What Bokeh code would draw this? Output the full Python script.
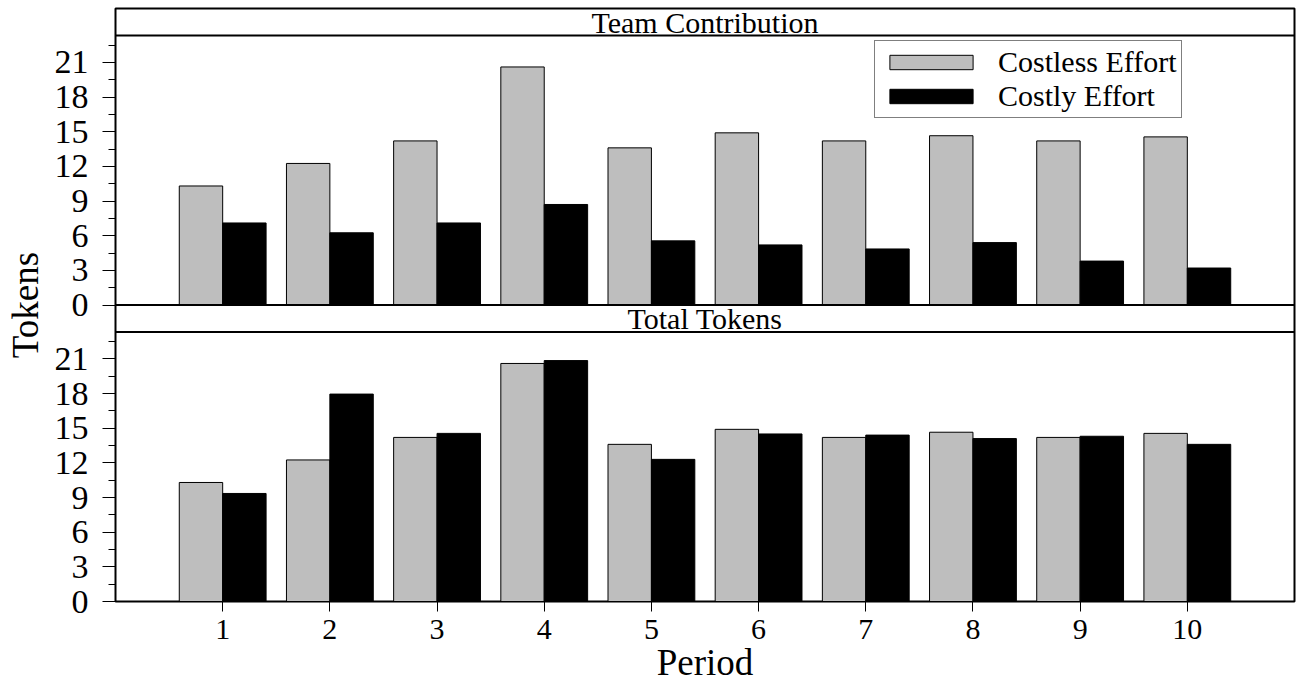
from bokeh.plotting import figure
from bokeh.models import (Range1d, FixedTicker, Span, Label, Legend, LegendItem,
                          ColumnDataSource, CustomJSTickFormatter)
from bokeh.embed import file_html
from bokeh.resources import INLINE
from bokeh.transform import dodge

periods = [1, 2, 3, 4, 5, 6, 7, 8, 9, 10]
costless_team = [10.3, 12.25, 14.2, 20.6, 13.6, 14.9, 14.2, 14.65, 14.2, 14.55]
costly_team = [7.1, 6.25, 7.1, 8.7, 5.55, 5.2, 4.85, 5.4, 3.8, 3.2]
costless_total = [10.3, 12.25, 14.2, 20.6, 13.6, 14.9, 14.2, 14.65, 14.2, 14.55]
costly_total = [9.35, 17.95, 14.55, 20.85, 12.3, 14.5, 14.4, 14.1, 14.3, 13.6]
panel_titles = ["Team Contribution", "Total Tokens"]
series_names = ["Costless Effort", "Costly Effort"]
y_major = [0, 3, 6, 9, 12, 15, 18, 21]
y_minor = [1.5, 4.5, 7.5, 10.5, 13.5, 16.5, 19.5, 22.5]

FONT = "Liberation Serif"
GRAY = "#BEBEBE"
PANEL_TOP = 23.32     # top of each panel's data area
Y_END = 25.66         # top of each panel incl. strip
BAR_W = 0.405

src_top = ColumnDataSource(dict(period=periods, gray=costless_team, black=costly_team))
src_bot = ColumnDataSource(dict(period=periods, gray=costless_total, black=costly_total))

p = figure(width=1297, height=686, output_backend="svg", toolbar_location=None,
           x_range=Range1d(0, 11), y_range=Range1d(0, 2 * Y_END),
           min_border_left=115, min_border_right=3, min_border_top=8, min_border_bottom=85)
p.extra_y_ranges = {"top": Range1d(-Y_END, Y_END)}
p.grid.visible = False
p.outline_line_color = "black"
p.outline_line_width = 2
p.background_fill_color = "white"
p.border_fill_color = "white"

# bottom panel (default range)
g2 = p.vbar(x=dodge("period", -BAR_W / 2), top="gray", width=BAR_W, source=src_bot,
            fill_color=GRAY, line_color="black", line_width=1)
b2 = p.vbar(x=dodge("period", BAR_W / 2), top="black", width=BAR_W, source=src_bot,
            fill_color="black", line_color="black", line_width=1)
# top panel (extra range, its 0 sits on the panel boundary)
g1 = p.vbar(x=dodge("period", -BAR_W / 2), top="gray", width=BAR_W, source=src_top,
            fill_color=GRAY, line_color="black", line_width=1, y_range_name="top")
b1 = p.vbar(x=dodge("period", BAR_W / 2), top="black", width=BAR_W, source=src_top,
            fill_color="black", line_color="black", line_width=1, y_range_name="top")

# panel boundary and strips
p.add_layout(Span(location=Y_END, dimension="width", line_color="black", line_width=2))
p.add_layout(Span(location=PANEL_TOP, dimension="width", line_color="black", line_width=2))
p.add_layout(Span(location=PANEL_TOP, dimension="width", line_color="black", line_width=2,
                  y_range_name="top"))
p.add_layout(Label(x=5.5, y=(PANEL_TOP + Y_END) / 2, text=panel_titles[1], text_align="center",
                   text_baseline="middle", text_font=FONT, text_font_size="30px",
                   text_color="black"))
p.add_layout(Label(x=5.5, y=(PANEL_TOP + Y_END) / 2, text=panel_titles[0], text_align="center",
                   text_baseline="middle", text_font=FONT, text_font_size="30px",
                   text_color="black", y_range_name="top"))

ya = p.yaxis[0]
ya.ticker = FixedTicker(ticks=y_major + [Y_END + t for t in y_major],
                        minor_ticks=y_minor + [Y_END + t for t in y_minor])
ya.formatter = CustomJSTickFormatter(args=dict(off=Y_END), code="""
    const v = tick >= off - 0.01 ? tick - off : tick;
    return Math.round(v).toString();
""")
ya.major_tick_in = 0
ya.major_tick_out = 13
ya.minor_tick_in = 0
ya.minor_tick_out = 7
ya.major_tick_line_color = "black"
ya.minor_tick_line_color = "black"
ya.axis_line_color = "black"
ya.major_label_text_font = FONT
ya.major_label_text_font_size = "34px"
ya.major_label_text_color = "black"
ya.major_label_standoff = 14
ya.axis_label = "Tokens"
ya.axis_label_text_font = FONT
ya.axis_label_text_font_size = "37px"
ya.axis_label_text_font_style = "normal"
ya.axis_label_text_color = "black"
ya.axis_label_standoff = 6

xa = p.xaxis[0]
xa.ticker = FixedTicker(ticks=periods)
xa.major_tick_in = 0
xa.major_tick_out = 10
xa.minor_tick_line_color = None
xa.major_tick_line_color = "black"
xa.axis_line_color = "black"
xa.major_label_text_font = FONT
xa.major_label_text_font_size = "30px"
xa.major_label_text_color = "black"
xa.major_label_standoff = 8
xa.axis_label = "Period"
xa.axis_label_text_font = FONT
xa.axis_label_text_font_size = "37px"
xa.axis_label_text_font_style = "normal"
xa.axis_label_text_color = "black"
xa.axis_label_standoff = 0

legend = Legend(items=[LegendItem(label=series_names[0], renderers=[g1]),
                       LegendItem(label=series_names[1], renderers=[b1])],
                location=(759, 483), glyph_width=104, glyph_height=18,
                label_standoff=15, spacing=0, padding=4, margin=0,
                label_text_font=FONT, label_text_font_size="30px",
                label_text_color="black", label_height=26,
                border_line_color="black", border_line_width=1.5,
                background_fill_alpha=1.0)
p.add_layout(legend)

open("out.html", "w").write(file_html(p, INLINE))
